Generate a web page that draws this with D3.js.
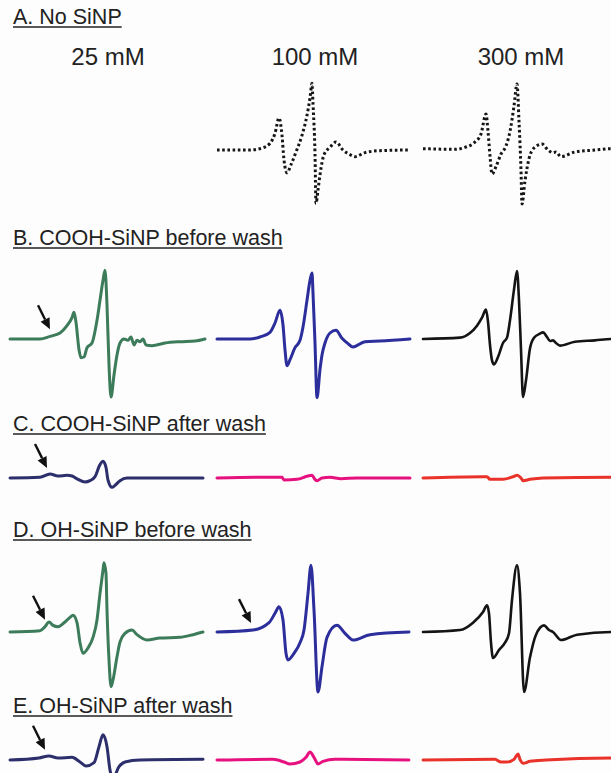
<!DOCTYPE html>
<html>
<head>
<meta charset="utf-8">
<script src="https://cdn.jsdelivr.net/npm/d3@7/dist/d3.min.js"></script>
<style>
  html, body { margin: 0; padding: 0; background: #fdfdfd; }
  svg { display: block; }
  text { font-family: "Liberation Sans", Arial, sans-serif; fill: #222; }
</style>
</head>
<body>
<svg id="fig" width="611" height="773"></svg>
<script>
// EPR spectra of the spin probe at three concentrations, per sample condition.
// Each trace: [field (a.u.), first-derivative signal (a.u.)]

const concentrations = ["25 mM", "100 mM", "300 mM"];
const panelTitles = [
  "A. No SiNP",
  "B. COOH-SiNP before wash",
  "C. COOH-SiNP after wash",
  "D. OH-SiNP before wash",
  "E. OH-SiNP after wash"
];

// A. No SiNP
const noSiNP_100 = [[0,0],[16.5,0],[22.5,3],[26.5,10],[29,25],[31,48],[32.5,22],[33.5,-15],[35,-34],[37,-22],[39.5,-3],[42.5,22],[45,52],[46.5,78],[47.5,100],[48,69],[49,-6],[49.5,-80],[50.5,-60],[51.5,-37],[53.5,-7],[56.5,4],[59.5,12],[63,0],[66.5,-7],[69,-10],[74,-4],[81.5,-1],[96.5,0]];
const noSiNP_300 = [[0,2],[16,1],[21,4],[26,12],[29,24],[31.5,54],[32.5,28],[33.5,-9],[34.5,-36],[36.5,-25],[39,-6],[41.5,6],[43.5,28],[45.5,66],[47,99],[48,43],[49,-31],[49.5,-81],[51,-46],[53,-13],[55.5,3],[59.5,9],[62.5,0],[65,-4],[66.5,-3],[69,-10],[76,-3],[86,0],[94,2],[97,0]];

// B. COOH-SiNP before wash
const coohBefore_25 = [[0,0],[15,0],[20,4],[25,9],[28.5,20],[31,32],[32,40],[33,25],[34.5,-16],[35.5,-28],[37,-27],[38.5,-13],[41,-6],[43.5,28],[45,58],[46.5,88],[47.5,103],[48.5,51],[49.5,-39],[50.5,-87],[52,-54],[53.5,-24],[55,-6],[57,0],[59,-2],[60.5,3],[62,-9],[63.5,-2],[65,-4],[66.5,0],[68,-9],[71,-10],[77.5,-6],[85,-4],[92.5,-3],[97.5,0]];
const coohBefore_100 = [[0,0],[16.5,0],[21.5,3],[26.5,10],[29,24],[31.5,43],[33,21],[34,-16],[35,-40],[36.5,-31],[39,-13],[41.5,-2],[43,18],[45,58],[46.5,88],[47.5,99],[48,69],[49,-6],[50,-88],[51.5,-46],[52.5,-24],[54,-6],[56.5,9],[59.5,13],[62.5,1],[65.5,-7],[68,-12],[74,-4],[81.5,-3],[96.5,0]];
const coohBefore_300 = [[0,0],[18.5,2],[23.5,9],[27,20],[29.5,32],[31.5,44],[32.5,26],[33.5,-9],[34.5,-32],[35.5,-38],[37.5,-27],[40,-6],[42,2],[43.5,28],[45.5,74],[47,102],[48,58],[49,-16],[50,-87],[51.5,-62],[53.5,-14],[55.5,2],[58.5,8],[60,10],[62,3],[63.5,-3],[65,-2],[66.5,-6],[68.5,-10],[76,-4],[86,-2],[94,0],[97,0]];

// C. COOH-SiNP after wash
const coohAfter_25 = [[0,0],[15,1],[20,6],[24,3],[28.5,4],[31,3],[34,-2],[37.5,-6],[40,-4],[42.5,2],[45,20],[46.5,25],[48,16],[49,-3],[51,-14],[52.5,-11],[55,-4],[58.5,0],[75,0],[96.5,0]];
const coohAfter_100 = [[0,0],[20,1],[32.5,1],[33.5,-3],[40,-2],[45.5,3],[47.5,4],[49,-2],[50,-4],[52.5,0],[56.5,1],[62,-1],[70,0],[96.5,0]];
const coohAfter_300 = [[0,0],[30,2],[32,2],[33.5,-2],[40,-2],[46,3],[47,4],[49.5,-2],[50,-4],[53.5,-2],[60,0],[94,1],[97,0]];

// D. OH-SiNP before wash
const ohBefore_25 = [[0,0],[15,2],[17.5,8],[19.5,15],[21.5,10],[24,8],[27.5,15],[30,22],[31.5,25],[33.5,14],[35,-16],[36.5,-32],[39,-24],[41.5,-8],[43.5,18],[45,58],[46.5,93],[47,104],[48,88],[48.5,33],[49.5,-42],[50.5,-82],[51.5,-72],[53.5,-37],[55,-15],[57.5,-2],[61,3],[63.5,-4],[68.5,-12],[75,-9],[85,-8],[91.5,-4],[96.5,0]];
const ohBefore_100 = [[0,0],[18,3],[26,14],[29,28],[31,38],[33,18],[34.5,-32],[35.5,-42],[38.5,-32],[41.5,-16],[43.5,3],[45.5,58],[47,100],[48.5,33],[50.5,-90],[52.5,-52],[55,-8],[60,10],[64,-2],[68,-12],[76.5,-4],[96,0]];
const ohBefore_300 = [[0,0],[18.5,3],[25,14],[30,30],[32,40],[33,28],[34,-16],[35,-39],[38,-27],[41,-16],[43,-2],[44.5,48],[47,100],[48.5,58],[50.5,-90],[53.5,-38],[56.5,-4],[60.5,10],[63,3],[65,0],[69,-12],[77,-4],[94,0],[97,0]];

// E. OH-SiNP after wash
const ohAfter_25 = [[0,0],[14.5,3],[19.5,6],[24,3],[31,4],[35,-3],[38,-9],[42,-4],[44.5,20],[46.5,38],[48.5,20],[50,-15],[51.5,-27],[54.5,-10],[57.5,-3],[65,0],[96.5,1]];
const ohAfter_100 = [[0,0],[28,1],[33.5,-3],[36.5,-6],[41.5,-3],[44.5,4],[46.5,12],[48.5,4],[50.5,-6],[53,-2],[59,1],[96,0]];
const ohAfter_300 = [[0,0],[36,1],[39,-3],[42,-3],[45.5,1],[47.5,9],[48.5,1],[50,-5],[53.5,-2],[61.5,0],[94,3],[97,2]];

// Rows of the figure: which traces sit under which concentration (null = not measured)
const rows = [
  { title: panelTitles[0], traces: [null, noSiNP_100, noSiNP_300], colors: [null, "#151515", "#151515"], dotted: true },
  { title: panelTitles[1], traces: [coohBefore_25, coohBefore_100, coohBefore_300], colors: ["#3d7c5b", "#2b2e9b", "#141414"] },
  { title: panelTitles[2], traces: [coohAfter_25, coohAfter_100, coohAfter_300], colors: ["#2d2f6c", "#e6117f", "#e8322a"] },
  { title: panelTitles[3], traces: [ohBefore_25, ohBefore_100, ohBefore_300], colors: ["#3d7c5b", "#2b2e9b", "#141414"] },
  { title: panelTitles[4], traces: [ohAfter_25, ohAfter_100, ohAfter_300], colors: ["#2d2f6c", "#e6117f", "#e8322a"] }
];

// Arrows marking the extra low-field component: [row, column, field]
const arrowMarks = [[1, 0, 20], [2, 0, 18.5], [3, 0, 17.5], [3, 1, 17], [4, 0, 17.5]];

// ---- layout ----
const svg = d3.select("#fig");
const colStarts = [10, 217, 423];
const colWidth = 194;
const rowBaselines = [150, 339, 478, 632, 760];
const titleBaselines = [24, 245, 431, 537, 713];

const xScales = colStarts.map(x0 => d3.scaleLinear().domain([0, 97]).range([x0, x0 + colWidth]));
const yScales = rowBaselines.map(b => d3.scaleLinear().domain([-150, 150]).range([b + 100, b - 100]));

// titles with underline
rows.forEach((r, i) => {
  const t = svg.append("text")
    .attr("x", 13).attr("y", titleBaselines[i])
    .attr("font-size", 21.5)
    .text(r.title);
  const w = t.node().getComputedTextLength();
  svg.append("line")
    .attr("x1", 13).attr("x2", 13 + w)
    .attr("y1", titleBaselines[i] + 3).attr("y2", titleBaselines[i] + 3)
    .attr("stroke", "#222").attr("stroke-width", 1.3);
});

// concentration headers
concentrations.forEach((c, j) => {
  svg.append("text")
    .attr("x", colStarts[j] + colWidth / 2 + 1)
    .attr("y", 65)
    .attr("text-anchor", "middle")
    .attr("font-size", 24)
    .text(c);
});

// spectra
rows.forEach((r, i) => {
  r.traces.forEach((tr, j) => {
    if (!tr) return;
    const line = d3.line()
      .x(d => xScales[j](d[0]))
      .y(d => yScales[i](d[1]))
      .curve(d3.curveMonotoneX);
    const p = svg.append("path")
      .datum(tr)
      .attr("d", line)
      .attr("fill", "none")
      .attr("stroke", r.colors[j])
      .attr("stroke-linejoin", "round");
    if (r.dotted) {
      p.attr("stroke-width", 3).attr("stroke-dasharray", "2.6,2.6");
    } else {
      p.attr("stroke-width", j === 2 && (i === 1 || i === 3) ? 2.6 : 3)
       .attr("stroke-linecap", "round");
    }
  });
});

// arrows
function signalAt(tr, f) {
  const i = d3.bisector(d => d[0]).left(tr, f);
  if (i <= 0) return tr[0][1];
  const a = tr[i - 1], b = tr[i];
  return a[1] + (b[1] - a[1]) * (f - a[0]) / (b[0] - a[0]);
}
arrowMarks.forEach(([ri, cj, f]) => {
  const tr = rows[ri].traces[cj];
  const tipX = xScales[cj](f);
  const tipY = yScales[ri](signalAt(tr, f)) - 7;
  const dx = 12, dy = 24;
  const len = Math.hypot(dx, dy), ux = dx / len, uy = dy / len;
  const headL = 11, headW = 5;
  const bx = tipX - ux * headL, by = tipY - uy * headL;
  svg.append("line")
    .attr("x1", tipX - dx).attr("y1", tipY - dy)
    .attr("x2", bx).attr("y2", by)
    .attr("stroke", "#111").attr("stroke-width", 2.4);
  svg.append("path")
    .attr("d", `M${tipX},${tipY}L${bx - uy * headW},${by + ux * headW}L${bx + uy * headW},${by - ux * headW}Z`)
    .attr("fill", "#111");
});
</script>
</body>
</html>
